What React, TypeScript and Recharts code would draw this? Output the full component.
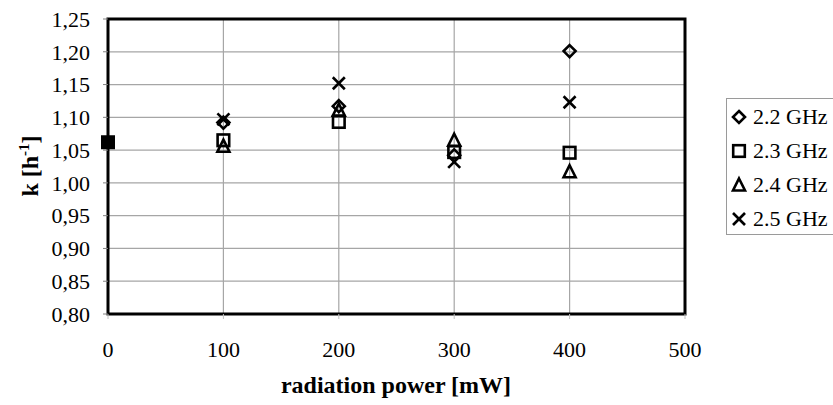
import React from "react";
import {
    CartesianGrid,
    Label,
    ReferenceArea,
    Scatter,
    ScatterChart,
    XAxis,
    YAxis
} from "recharts";

// radiation power [mW]
const powers = [100, 200, 300, 400];

// k [h^-1] per frequency
const k22 = [1.092, 1.117, 1.042, 1.201];
const k23 = [1.065, 1.093, 1.047, 1.046];
const k24 = [1.056, 1.111, 1.065, 1.017];
const k25 = [1.097, 1.152, 1.032, 1.123];

// reference point without radiation (all series coincide)
const basePower = [0];
const baseK = [1.062];

const xTicks = [0, 100, 200, 300, 400, 500];
const yTicks = [0.8, 0.85, 0.9, 0.95, 1.0, 1.05, 1.1, 1.15, 1.2, 1.25];

const seriesNames = ["2.2 GHz", "2.3 GHz", "2.4 GHz", "2.5 GHz"];
const seriesValues = [k22, k23, k24, k25];
const markerKinds = ["diamond", "square", "triangle", "cross"];

const FONT = "'Liberation Serif', 'Times New Roman', serif";

const toPoints = (xs: number[], ys: number[]) => xs.map((x, i) => ({ x, y: ys[i] }));

function Marker({ kind, cx, cy }: { kind: string; cx: number; cy: number }) {
    const sw = 2.6;
    if (kind === "diamond") {
        const r = 6;
        return <polygon points={`${cx},${cy - r} ${cx + r},${cy} ${cx},${cy + r} ${cx - r},${cy}`} fill="none" stroke="#000" strokeWidth={sw} />;
    }
    if (kind === "square") {
        return <rect x={cx - 5.8} y={cy - 5.8} width={11.6} height={11.6} fill="none" stroke="#000" strokeWidth={sw} />;
    }
    if (kind === "triangle") {
        return <polygon points={`${cx},${cy - 6.5} ${cx + 6},${cy + 5.5} ${cx - 6},${cy + 5.5}`} fill="none" stroke="#000" strokeWidth={sw} />;
    }
    if (kind === "cross") {
        const r = 6;
        return (
            <g stroke="#000" strokeWidth={sw}>
                <line x1={cx - r} y1={cy - r} x2={cx + r} y2={cy + r} />
                <line x1={cx - r} y1={cy + r} x2={cx + r} y2={cy - r} />
            </g>
        );
    }
    return <rect x={cx - 7} y={cy - 7} width={14} height={14} fill="#000" />;
}

const shapeFor = (kind: string) => (props: any) => <Marker kind={kind} cx={props.cx} cy={props.cy} />;

function LegendBox() {
    return (
        <div style={{
            position: "absolute", left: 726, top: 98, width: 120, height: 137,
            border: "1px solid #9a9a9a", boxSizing: "border-box", background: "#fff",
            fontFamily: FONT, fontSize: 22, lineHeight: "34px"
        }}>
            {seriesNames.map((name, i) => (
                <div key={name} style={{ display: "flex", alignItems: "center", height: 34, marginTop: i === 0 ? 1 : 0 }}>
                    <svg width={24} height={20} style={{ marginLeft: 0 }}>
                        <Marker kind={markerKinds[i]} cx={12} cy={10} />
                    </svg>
                    <span style={{ marginLeft: 2, whiteSpace: "nowrap" }}>{name}</span>
                </div>
            ))}
        </div>
    );
}

export default function App() {
    const tickStyle = { fontFamily: FONT, fontSize: 22, fill: "#000" };
    const titleStyle = { fontFamily: FONT, fontSize: 24, fontWeight: "bold" as const, fill: "#000" };
    return (
        <div style={{ position: "absolute", left: 0, top: 0, width: 833, height: 405, background: "#fff", overflow: "hidden" }}>
            <ScatterChart width={833} height={405} margin={{ top: 19, right: 148, bottom: 31, left: 0 }}>
                <CartesianGrid stroke="#a6a6a6" strokeWidth={1.2} />
                <XAxis
                    type="number"
                    dataKey="x"
                    domain={[0, 500]}
                    ticks={xTicks}
                    interval={0}
                    height={60}
                    tick={tickStyle}
                    tickSize={5}
                    tickMargin={22}
                    tickLine={{ stroke: "#c0c0c0" }}
                    axisLine={false}
                >
                    <Label
                        content={() => (
                            <text x={396} y={393} textAnchor="middle" style={titleStyle}>
                                radiation power [mW]
                            </text>
                        )}
                    />
                </XAxis>
                <YAxis
                    type="number"
                    dataKey="y"
                    domain={[0.8, 1.25]}
                    ticks={yTicks}
                    interval={0}
                    width={108}
                    tick={tickStyle}
                    tickSize={5}
                    tickMargin={13}
                    tickLine={{ stroke: "#808080" }}
                    axisLine={false}
                    tickFormatter={(v: number) => v.toFixed(2).replace(".", ",")}
                >
                    <Label
                        content={() => (
                            <text transform="translate(38,166) rotate(-90)" textAnchor="middle" style={titleStyle}>
                                k [h<tspan dy={-9} fontSize={15}>-1</tspan><tspan dy={9}>]</tspan>
                            </text>
                        )}
                    />
                </YAxis>
                <ReferenceArea x1={0} x2={500} y1={0.8} y2={1.25} fill="none" stroke="#000" strokeWidth={3} ifOverflow="visible" />
                {seriesNames.map((name, i) => (
                    <Scatter
                        key={name}
                        name={name}
                        data={toPoints(powers, seriesValues[i])}
                        shape={shapeFor(markerKinds[i])}
                        isAnimationActive={false}
                    />
                ))}
                <Scatter
                    name="0 mW"
                    data={toPoints(basePower, baseK)}
                    shape={shapeFor("filled")}
                    legendType="none"
                    isAnimationActive={false}
                />
            </ScatterChart>
            <LegendBox />
        </div>
    );
}
